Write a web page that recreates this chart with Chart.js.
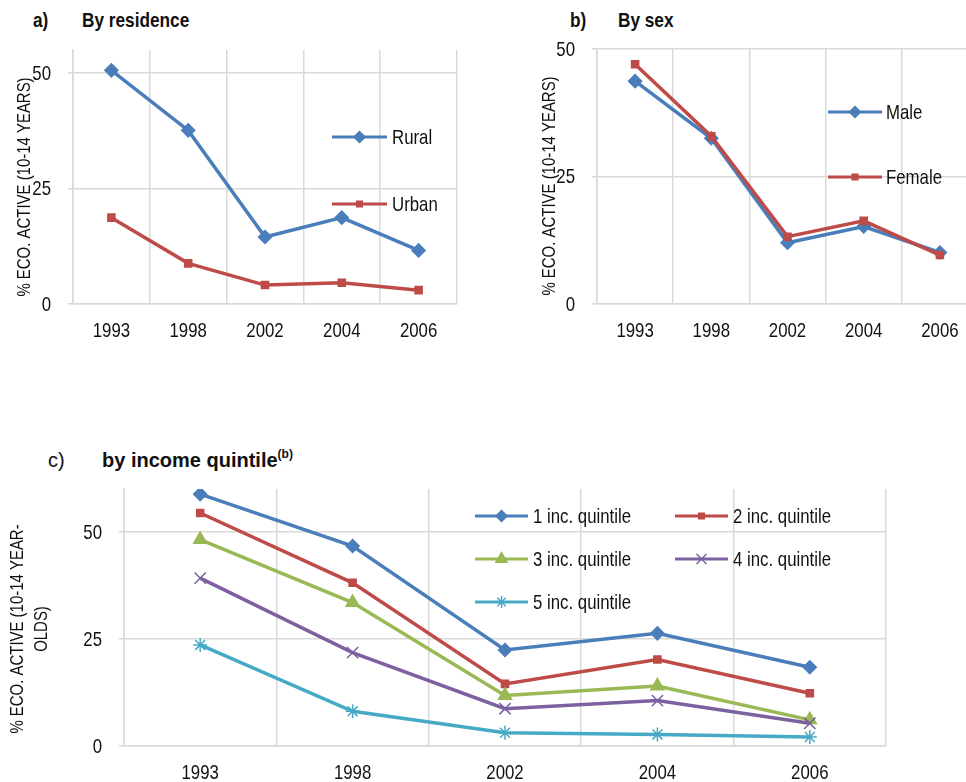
<!DOCTYPE html>
<html>
<head>
<meta charset="utf-8">
<script src="https://cdn.jsdelivr.net/npm/chart.js@4.4.1/dist/chart.umd.min.js"></script>
<style>
    html, body { margin: 0; padding: 0; background: #fff; width: 966px; height: 782px; overflow: hidden; }
    body { position: relative; font-family: "Liberation Sans", Arial, sans-serif; color: #111; }
    .panel { position: absolute; }
    .titulo { position: absolute; font-size: 20px; line-height: 20px; white-space: nowrap; }
    .negrita { font-weight: bold; }
    /* no hay Arial Narrow instalada: se estrecha a mano */
    .estrecho { font-size: 21px; transform: scaleX(0.82); transform-origin: left center; }
    .titulo sup { font-size: 12px; line-height: 0; vertical-align: 9px; }
</style>
</head>
<body>
    <div class="titulo negrita estrecho" style="left:33px; top:10px;">a)</div>
    <div class="titulo negrita estrecho" style="left:82px; top:10px;">By residence</div>
    <div class="titulo negrita estrecho" style="left:570px; top:10px;">b)</div>
    <div class="titulo negrita estrecho" style="left:618px; top:10px;">By sex</div>
    <div class="titulo" style="left:48px; top:450px;">c)</div>
    <div class="titulo negrita" style="left:102px; top:450px;">by income quintile<sup>(b)</sup></div>

    <div class="panel" style="left:0; top:0; width:480px; height:345px;"><canvas id="graficoResidencia" width="480" height="345"></canvas></div>
    <div class="panel" style="left:480px; top:0; width:510px; height:345px;"><canvas id="graficoSexo" width="510" height="345"></canvas></div>
    <div class="panel" style="left:0; top:440px; width:966px; height:342px;"><canvas id="graficoQuintil" width="966" height="342"></canvas></div>

<script>
    // Datos
    const anios = ['1993', '1998', '2002', '2004', '2006'];
    const ticksEjeY = [0, 25, 50];

    const valoresRural = [50.6, 37.6, 14.5, 18.7, 11.6];
    const valoresUrbana = [18.7, 8.8, 4.1, 4.6, 3.0];

    const valoresHombres = [43.7, 32.5, 12.0, 15.2, 10.1];
    const valoresMujeres = [47.0, 32.9, 13.2, 16.3, 9.6];

    const quintil1 = [58.8, 46.7, 22.4, 26.3, 18.4];
    const quintil2 = [54.4, 38.1, 14.5, 20.2, 12.3];
    const quintil3 = [48.2, 33.5, 11.8, 14.0, 6.1];
    const quintil4 = [39.2, 21.8, 8.7, 10.6, 5.3];
    const quintil5 = [23.6, 8.1, 3.1, 2.7, 2.1];

    const FUENTE = '"Liberation Sans", Arial, sans-serif';
    const ESTRECHO = 0.8;   // imita Arial Narrow
    const GRIS_REJILLA = '#d9d9d9';
    const COLOR_TEXTO = '#111';

    const AZUL = '#4a7ebb', ROJO = '#be4b48', VERDE = '#98b954', MORADO = '#7d60a0', CIAN = '#46aac5';

    function textoEstrecho(ctx, texto, x, y, alinear, escala, rotar) {
        ctx.save();
        ctx.translate(x, y);
        if (rotar) ctx.rotate(-Math.PI / 2);
        ctx.scale(escala, 1);
        ctx.textAlign = alinear;
        ctx.textBaseline = 'middle';
        ctx.fillText(texto, 0, 0);
        ctx.restore();
    }

    // Plugin: etiquetas de ejes, título del eje Y y leyenda estilo Excel (línea + marcador)
    const pluginLeyendaExcel = {
        id: 'leyendaExcel',
        afterDatasetsDraw(chart) {
            const cfg = chart.config.options.plugins.leyendaExcel;
            if (!cfg) return;
            const { ctx, scales: { x, y } } = chart;
            ctx.save();
            ctx.fillStyle = COLOR_TEXTO;

            // etiquetas de las marcas
            ctx.font = `21px ${FUENTE}`;
            y.ticks.forEach(t => {
                textoEstrecho(ctx, String(t.value), x.left - 22, y.getPixelForValue(t.value) + 1, 'right', ESTRECHO);
            });
            x.ticks.forEach((t, i) => {
                textoEstrecho(ctx, x.getLabelForValue(t.value), x.getPixelForTick(i), y.bottom + 27, 'center', ESTRECHO);
            });

            // título vertical (puede tener varias líneas)
            const tt = cfg.tituloY;
            ctx.font = `18px ${FUENTE}`;
            tt.lineas.forEach((linea, i) => {
                textoEstrecho(ctx, linea, tt.x + i * tt.salto, tt.y, 'center', 0.83, true);
            });

            // entradas de la leyenda
            cfg.items.forEach(it => {
                const ds = chart.data.datasets[it.ds];
                ctx.strokeStyle = ds.borderColor;
                ctx.lineWidth = 3;
                ctx.beginPath();
                ctx.moveTo(it.x1, it.y);
                ctx.lineTo(it.x2, it.y);
                ctx.stroke();

                ctx.fillStyle = ds.pointBackgroundColor;
                ctx.strokeStyle = ds.pointBorderColor;
                ctx.lineWidth = ds.pointBorderWidth;
                Chart.helpers.drawPoint(ctx, {
                    pointStyle: ds.pointStyle,
                    radius: ds.pointRadius - 1,
                    rotation: 0,
                    borderWidth: ds.pointBorderWidth
                }, (it.x1 + it.x2) / 2, it.y);

                ctx.fillStyle = COLOR_TEXTO;
                ctx.font = `21px ${FUENTE}`;
                textoEstrecho(ctx, ds.label, it.xTexto, it.y + 1, 'left', ESTRECHO);
            });

            ctx.restore();
        }
    };
    Chart.register(pluginLeyendaExcel);

    function serie(label, datos, color, estilo, radio, orden) {
        return {
            label,
            data: datos,
            borderColor: color,
            backgroundColor: color,
            borderWidth: 3.5,
            pointStyle: estilo,
            pointRadius: radio,
            pointHoverRadius: radio,
            pointBackgroundColor: color,
            pointBorderColor: color,
            pointBorderWidth: 1.5,
            tension: 0,
            order: orden
        };
    }

    function crearGrafico(idCanvas, datasets, opc) {
        const ctx = document.getElementById(idCanvas).getContext('2d');
        return new Chart(ctx, {
            type: 'line',
            data: { labels: anios, datasets },
            options: {
                responsive: false,
                animation: false,
                events: [],
                layout: { padding: { left: 0, top: opc.arriba, right: opc.derecha, bottom: 0 } },
                plugins: {
                    legend: { display: false },
                    tooltip: { enabled: false },
                    leyendaExcel: opc.leyenda
                },
                scales: {
                    x: {
                        type: 'category',
                        offset: true,
                        grid: { color: GRIS_REJILLA, lineWidth: 1.5, offset: true, drawTicks: false },
                        border: { color: GRIS_REJILLA, width: 1.5 },
                        ticks: { display: false },
                        afterFit(escala) { escala.height = opc.altoX; }
                    },
                    y: {
                        type: 'linear',
                        min: 0,
                        max: opc.maxY,
                        grid: { color: GRIS_REJILLA, lineWidth: 1.5, tickLength: 5 },
                        border: { color: GRIS_REJILLA, width: 1.5 },
                        ticks: { display: false },
                        afterBuildTicks(escala) { escala.ticks = ticksEjeY.map(v => ({ value: v })); },
                        afterFit(escala) { escala.width = opc.anchoY; }
                    }
                }
            }
        });
    }

    // a) Por residencia
    const dsResidencia = [
        serie('Rural', valoresRural, AZUL, 'rectRot', 6.5, 2),
        serie('Urban', valoresUrbana, ROJO, 'rect', 5, 1)
    ];
    crearGrafico('graficoResidencia', dsResidencia, {
        arriba: 50, derecha: 23, anchoY: 73, altoX: 41, maxY: 55,
        leyenda: {
            tituloY: { lineas: ['% ECO. ACTIVE (10-14 YEARS)'], x: 25, y: 187, salto: 0 },
            items: [
                { ds: 0, x1: 332, x2: 387, y: 137, xTexto: 392 },
                { ds: 1, x1: 332, x2: 387, y: 204, xTexto: 392 }
            ]
        }
    });

    // b) Por sexo
    const dsSexo = [
        serie('Male', valoresHombres, AZUL, 'rectRot', 6.5, 2),
        serie('Female', valoresMujeres, ROJO, 'rect', 5, 1)
    ];
    crearGrafico('graficoSexo', dsSexo, {
        arriba: 49, derecha: 12, anchoY: 117, altoX: 41, maxY: 50,
        leyenda: {
            tituloY: { lineas: ['% ECO. ACTIVE (10-14 YEARS)'], x: 70, y: 186, salto: 0 },
            items: [
                { ds: 0, x1: 348, x2: 402, y: 112, xTexto: 406 },
                { ds: 1, x1: 348, x2: 402, y: 177, xTexto: 406 }
            ]
        }
    });

    // c) Por quintil de ingreso
    const dsQuintil = [
        serie('1 inc. quintile', quintil1, AZUL, 'rectRot', 6.5, 5),
        serie('2 inc. quintile', quintil2, ROJO, 'rect', 5, 4),
        serie('3 inc. quintile', quintil3, VERDE, 'triangle', 7.5, 3),
        serie('4 inc. quintile', quintil4, MORADO, 'crossRot', 8, 2),
        serie('5 inc. quintile', quintil5, CIAN, 'star', 7, 1)
    ];
    crearGrafico('graficoQuintil', dsQuintil, {
        arriba: 49, derecha: 80, anchoY: 124, altoX: 36, maxY: 60,
        leyenda: {
            tituloY: { lineas: ['% ECO. ACTIVE (10-14 YEAR-', 'OLDS)'], x: 18, y: 189, salto: 24 },
            items: [
                { ds: 0, x1: 475, x2: 528, y: 76, xTexto: 533 },
                { ds: 1, x1: 675, x2: 728, y: 76, xTexto: 733 },
                { ds: 2, x1: 475, x2: 528, y: 119, xTexto: 533 },
                { ds: 3, x1: 675, x2: 728, y: 119, xTexto: 733 },
                { ds: 4, x1: 475, x2: 528, y: 162, xTexto: 533 }
            ]
        }
    });
</script>
</body>
</html>
